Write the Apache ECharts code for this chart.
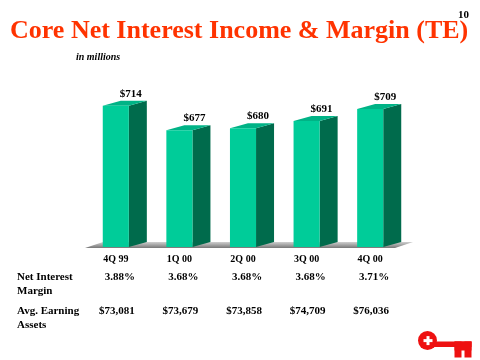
<!DOCTYPE html>
<html>
<head>
<meta charset="utf-8">
<script src="https://cdn.jsdelivr.net/npm/echarts@6/dist/echarts.min.js"></script>
<style>
html,body{margin:0;padding:0;background:#fff;}
#main{width:480px;height:360px;}
</style>
</head>
<body>
<div id="main"></div>
<script>
const categories = ['4Q 99', '1Q 00', '2Q 00', '3Q 00', '4Q 00'];
const income = [714, 677, 680, 691, 709];
const marginPct = ['3.88%', '3.68%', '3.68%', '3.68%', '3.71%'];
const avgAssets = ['$73,081', '$73,679', '$73,858', '$74,709', '$76,036'];
const yMin = 500;
const yMax = 750;

const SERIF = "'Liberation Serif','Times New Roman',Times,serif";
const FRONT = '#00CC99';
const SIDE = '#006B4C';
const TOP = '#00B386';
const DX = 18, DY = -5;

const chart = echarts.init(document.getElementById('main'), null, {renderer: 'canvas'});

function renderFloor(params, api) {
  const cs = params.coordSys;
  const x = cs.x, y = cs.y + cs.height;
  return {
    type: 'polygon',
    shape: {points: [[x + 1, y + 1], [x + cs.width - 7, y + 1], [x + cs.width + DX - 7, y + DY], [x + DX + 1, y + DY]]},
    style: {
      fill: new echarts.graphic.LinearGradient(0, 0, 0, 1, [
        {offset: 0, color: '#cfcfcf'},
        {offset: 1, color: '#777777'}
      ])
    }
  };
}

function renderBar(params, api) {
  const i = api.value(0);
  const v = api.value(1);
  const topPt = api.coord([i, v]);
  const basePt = api.coord([i, yMin]);
  const band = api.size([1, 0])[0];
  const fw = band * 0.41;
  const cx = topPt[0];
  const x0 = cx - fw / 2, x1 = cx + fw / 2;
  const yt = topPt[1], yb = basePt[1];
  return {
    type: 'group',
    children: [
      {type: 'polygon', shape: {points: [[x1, yt], [x1 + DX, yt + DY], [x1 + DX, yb + DY], [x1, yb]]}, style: {fill: SIDE}},
      {type: 'polygon', shape: {points: [[x0, yt], [x1, yt], [x1 + DX, yt + DY], [x0 + DX, yt + DY]]}, style: {fill: TOP}},
      {type: 'rect', shape: {x: x0, y: yt, width: fw, height: yb - yt}, style: {fill: FRONT}},
      {type: 'text', style: {text: '$' + income[i], x: cx + 15, y: yt + DY - 7, align: 'center', verticalAlign: 'middle',
        fill: '#000', font: 'bold 11px ' + SERIF}},
      {type: 'text', style: {text: marginPct[i], x: cx + 4, y: 277, align: 'center', verticalAlign: 'middle',
        fill: '#000', font: 'bold 11px ' + SERIF}},
      {type: 'text', style: {text: avgAssets[i], x: cx + 1, y: 311, align: 'center', verticalAlign: 'middle',
        fill: '#000', font: 'bold 11px ' + SERIF}}
    ]
  };
}

const option = {
  animation: false,
  backgroundColor: '#fff',
  grid: {left: 84, right: 78, top: 82, bottom: 113},
  xAxis: {
    type: 'category',
    data: categories,
    axisLine: {show: false},
    axisTick: {show: false},
    axisLabel: {margin: 7, color: '#000', fontWeight: 'bold', fontSize: 10, fontFamily: SERIF}
  },
  yAxis: {type: 'value', min: yMin, max: yMax, show: false},
  series: [
    {type: 'custom', renderItem: renderFloor, data: [[0, yMin]], encode: {x: 0, y: 1}, z: 1, silent: true},
    {type: 'custom', renderItem: renderBar, data: income.map((v, i) => [i, v]), encode: {x: 0, y: 1}, z: 2}
  ],
  graphic: [
    {type: 'text', left: 10, top: 18, style: {text: 'Core Net Interest Income & Margin (TE)', fill: '#FF3300', font: 'bold 26px ' + SERIF}},
    {type: 'text', left: 458, top: 10, style: {text: '10', fill: '#000', font: 'bold 11px ' + SERIF}},
    {type: 'text', left: 76, top: 52, style: {text: 'in millions', fill: '#000', font: 'italic bold 10px ' + SERIF}},
    {type: 'text', left: 17, top: 270, style: {text: 'Net Interest\nMargin', fill: '#000', font: 'bold 11px ' + SERIF, lineHeight: 14}},
    {type: 'text', left: 17, top: 304, style: {text: 'Avg. Earning\nAssets', fill: '#000', font: 'bold 11px ' + SERIF, lineHeight: 14}},
    {
      type: 'group', left: 418, top: 331,
      children: [
        {type: 'circle', shape: {cx: 10, cy: 9, r: 9.5}, style: {fill: '#EE1111'}},
        {type: 'rect', shape: {x: 16, y: 10, width: 38, height: 5.5}, style: {fill: '#EE1111'}},
        {type: 'rect', shape: {x: 37, y: 10, width: 7, height: 16}, style: {fill: '#EE1111'}},
        {type: 'rect', shape: {x: 47, y: 10, width: 7, height: 16}, style: {fill: '#EE1111'}},
        {type: 'rect', shape: {x: 37, y: 10, width: 17, height: 9}, style: {fill: '#EE1111'}},
        {type: 'rect', shape: {x: 6, y: 7.6, width: 9, height: 3}, style: {fill: '#fff'}},
        {type: 'rect', shape: {x: 9, y: 4.6, width: 3, height: 9}, style: {fill: '#fff'}}
      ]
    }
  ]
};
chart.setOption(option);
</script>
</body>
</html>
